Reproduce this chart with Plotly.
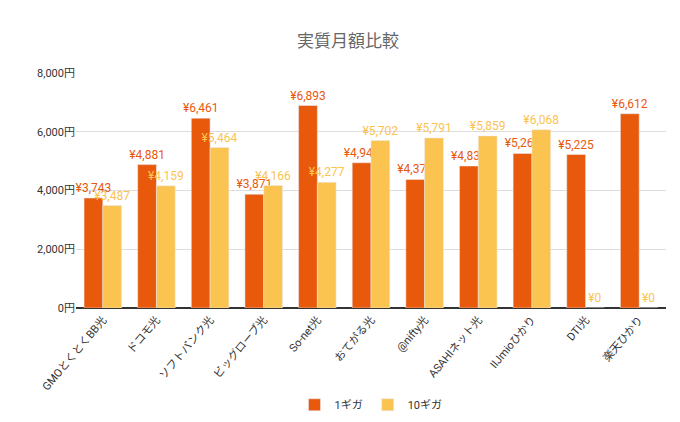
import plotly.graph_objects as go

categories = ["GMOとくとくBB光", "ドコモ光", "ソフトバンク光", "ビッグローブ光", "So-net光",
              "おてがる光", "@nifty光", "ASAHIネット光", "IIJmioひかり", "DTI光", "楽天ひかり"]
giga1 = [3743, 4881, 6461, 3871, 6893, 4943, 4376, 4833, 5261, 5225, 6612]
giga10 = [3487, 4159, 5464, 4166, 4277, 5702, 5791, 5859, 6068, 0, 0]
y_ticks = [0, 2000, 4000, 6000, 8000]

c1 = "#E8590C"
c10 = "#FBC34F"
font = "Roboto, Noto Sans CJK JP, sans-serif"

fig = go.Figure()
for name, vals, col in [("1ギガ", giga1, c1), ("10ギガ", giga10, c10)]:
    fig.add_trace(go.Bar(
        x=categories, y=vals, name=name, marker_color=col,
        text=[f"¥{v:,}" for v in vals], textposition="outside", constraintext="none",
        textfont=dict(color=col, size=12), cliponaxis=False,
    ))

fig.update_layout(
    width=680, height=422,
    title=dict(text="実質月額比較", x=0.5, y=0.935, font=dict(size=17, color="#666666", family=font)),
    font=dict(family=font, size=11, color="#333333"),
    barmode="group", bargap=0.3, bargroupgap=0.0,
    plot_bgcolor="white", paper_bgcolor="white",
    margin=dict(l=68, r=22, t=65, b=122, autoexpand=False),
    legend=dict(orientation="h", x=0.5, xanchor="center", y=-0.35, yanchor="top", font=dict(size=11)),
)
fig.update_yaxes(range=[0, 8000], tickvals=y_ticks, ticktext=[f"{v:,}円" for v in y_ticks],
                 gridcolor="#dddddd", zeroline=True, zerolinecolor="#333333", ticks="",
                 tickfont=dict(size=11), automargin=False)
fig.update_xaxes(tickangle=-50, showline=True, linecolor="#333333", ticks="",
                 tickfont=dict(size=11), automargin=False)

fig.write_html("out.html")
